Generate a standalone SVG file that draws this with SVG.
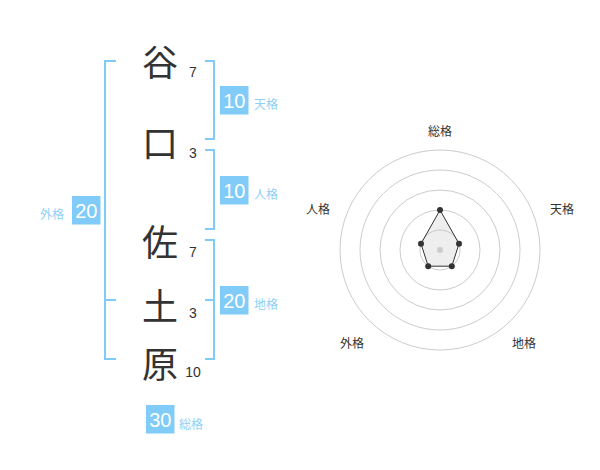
<svg xmlns="http://www.w3.org/2000/svg" width="600" height="470" viewBox="0 0 600 470">
<style>
.ch{font-family:"Noto Sans CJK JP","Noto Sans CJK SC",sans-serif;font-size:36px;fill:#333;text-anchor:middle;dominant-baseline:central}
.st{font-family:"Liberation Sans",Arial,sans-serif;font-size:14px;fill:#333;text-anchor:middle;dominant-baseline:central}
.br{fill:none;stroke:#80cbf8;stroke-width:2}
.bx{fill:#80cbf8}
.bn{font-family:"Liberation Sans",Arial,sans-serif;font-size:20px;fill:#fff;text-anchor:middle;dominant-baseline:central}
.lb{font-family:"Noto Sans CJK JP","Noto Sans CJK SC",sans-serif;font-size:12px;fill:#8ed0f8;dominant-baseline:central}
.rl{font-family:"Noto Sans CJK JP","Noto Sans CJK SC",sans-serif;font-size:12px;fill:#333;text-anchor:middle;dominant-baseline:central}
.ring{fill:none;stroke:#ccc;stroke-width:1}
.pt{fill:#333}
</style>
<rect width="600" height="470" fill="#fff"/>
<g id="name">
<text class="ch" x="160" y="60">谷</text>
<text class="ch" x="160" y="141">口</text>
<text class="ch" x="160" y="240">佐</text>
<text class="ch" x="160" y="304">土</text>
<text class="ch" x="160" y="362">原</text>
<text class="st" x="193" y="72">7</text>
<text class="st" x="193" y="153">3</text>
<text class="st" x="193" y="252">7</text>
<text class="st" x="193" y="313">3</text>
<text class="st" x="193" y="372">10</text>
</g>
<g id="connectors">
<path class="br" d="M116,61 H105 V359 H116 M105,300 H116"/>
<path class="br" d="M205,61 H214 V139 H205"/>
<path class="br" d="M205,150 H214 V229 H205"/>
<path class="br" d="M205,240 H214 V359 H205 M205,300 H214"/>
</g>
<g id="tenkaku">
<rect class="bx" x="220" y="86" width="28.5" height="28.5"/>
<text class="bn" x="234.3" y="100.5">10</text>
<text class="lb" x="254" y="103">天格</text>
</g>
<g id="jinkaku">
<rect class="bx" x="220" y="176" width="28.5" height="28.5"/>
<text class="bn" x="234.3" y="190.5">10</text>
<text class="lb" x="254" y="193">人格</text>
</g>
<g id="chikaku">
<rect class="bx" x="220" y="286" width="28.5" height="28.5"/>
<text class="bn" x="234.3" y="300.5">20</text>
<text class="lb" x="254" y="303">地格</text>
</g>
<g id="gaikaku">
<rect class="bx" x="72" y="196" width="28.5" height="28.5"/>
<text class="bn" x="86.3" y="210.5">20</text>
<text class="lb" x="40" y="213">外格</text>
</g>
<g id="soukaku">
<rect class="bx" x="146" y="405" width="28.5" height="28.5"/>
<text class="bn" x="160.3" y="419.5">30</text>
<text class="lb" x="179" y="423">総格</text>
</g>
<g id="radar">
<circle class="ring" cx="440" cy="250" r="20"/>
<circle class="ring" cx="440" cy="250" r="40"/>
<circle class="ring" cx="440" cy="250" r="60"/>
<circle class="ring" cx="440" cy="250" r="80"/>
<circle class="ring" cx="440" cy="250" r="100"/>
<polygon points="440,210 459,243.8 451.8,266.2 428.2,266.2 421,243.8" fill="rgba(200,200,200,0.3)" stroke="#333" stroke-width="1"/>
<circle cx="440" cy="250" r="3" fill="#ccc"/>
<circle class="pt" cx="440" cy="210" r="3"/>
<circle class="pt" cx="459" cy="243.8" r="3"/>
<circle class="pt" cx="451.8" cy="266.2" r="3"/>
<circle class="pt" cx="428.2" cy="266.2" r="3"/>
<circle class="pt" cx="421" cy="243.8" r="3"/>
<text class="rl" x="440" y="130">総格</text>
<text class="rl" x="562" y="208">天格</text>
<text class="rl" x="318" y="208">人格</text>
<text class="rl" x="352" y="342">外格</text>
<text class="rl" x="524" y="342">地格</text>
</g>
</svg>
